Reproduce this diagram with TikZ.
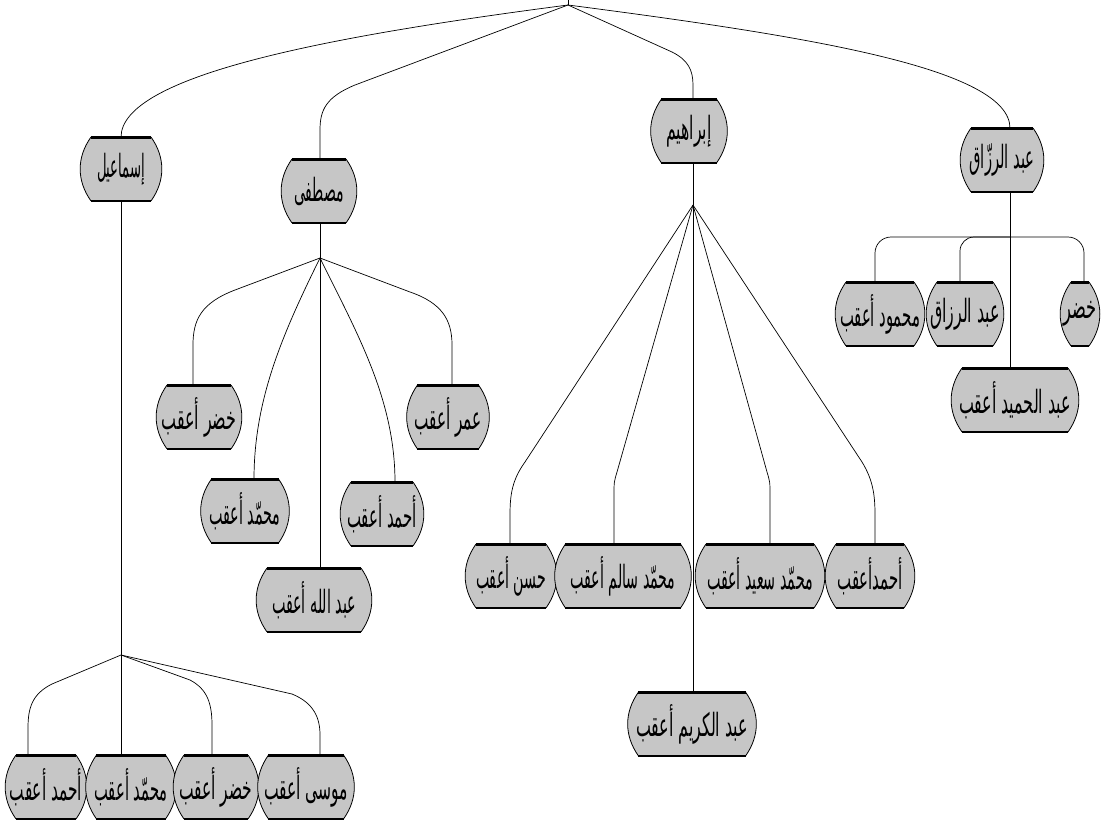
\documentclass[tikz,border=0pt]{standalone}
\usepackage{fontspec}
\usepackage{graphicx}
\usetikzlibrary{calc}
\newfontfamily\arabicfont[Script=Arabic]{DejaVu Sans}
\TeXXeTstate=1
\newcommand{\artext}[2]{\resizebox{#1}{2\height}{\arabicfont #2}}
\pgfdeclarelayer{bg}
\pgfsetlayers{bg,main}
\tikzset{
  fam/.style={rectangle, inner sep=0pt, minimum height=63pt, font=\fontsize{16}{18}\selectfont},
  famshape/.style={fill=gray!45, draw=black, line width=0.8pt},
  link/.style={draw=black, line width=0.7pt},
  edgebar/.style={line width=2.4pt, line cap=butt}
}
\begin{document}
\begin{tikzpicture}[x=1pt,y=-1pt]
\useasboundingbox (0,0) rectangle (1105,822);
% hubs
\coordinate (root) at (568,5);
\coordinate (top) at (568,0);
\coordinate (hubI) at (121,655);
\coordinate (hubM) at (320,258);
\coordinate (hubB) at (693,205);
\coordinate (hubA) at (1010,237);
% level 1
\node[fam, minimum width=78pt] (ism) at (121,169) {\artext{48pt}{\beginR إسماعيل\endR}};
\node[fam, minimum width=72pt] (mus) at (319,191) {\artext{50pt}{\beginR مصطفى\endR}};
\node[fam, minimum width=73pt] (ibr) at (689,131) {\artext{45pt}{\beginR إبراهيم\endR}};
\node[fam, minimum width=80pt] (abd) at (1002,160) {\artext{65pt}{\beginR عبد الرزّاق\endR}};
% children of abd
\node[fam, minimum width=86pt] (mah) at (880,314) {\artext{80pt}{\beginR محمود أعقب\endR}};
\node[fam, minimum width=74pt] (abd2) at (965,314) {\artext{70pt}{\beginR عبد الرزاق\endR}};
\node[fam, minimum width=36pt] (khd) at (1080,314) {\artext{33pt}{\beginR خضر\endR}};
\node[fam, minimum width=124pt] (hmd) at (1015,400) {\artext{112pt}{\beginR عبد الحميد أعقب\endR}};
% children of mus
\node[fam, minimum width=82pt] (khA) at (199,417) {\artext{75pt}{\beginR خضر أعقب\endR}};
\node[fam, minimum width=79pt] (omr) at (448,417) {\artext{67pt}{\beginR عمر أعقب\endR}};
\node[fam, minimum width=85pt] (muh) at (245,511) {\artext{71pt}{\beginR محمّد أعقب\endR}};
\node[fam, minimum width=80pt] (ahm) at (382,514) {\artext{70pt}{\beginR أحمد أعقب\endR}};
\node[fam, minimum width=112pt] (abl) at (314,600) {\artext{84pt}{\beginR عبد الله أعقب\endR}};
% children of ibr
\node[fam, minimum width=88pt] (hsn) at (511,576) {\artext{70pt}{\beginR حسن أعقب\endR}};
\node[fam, minimum width=133pt] (slm) at (623,576) {\artext{105pt}{\beginR محمّد سالم أعقب\endR}};
\node[fam, minimum width=126pt] (sed) at (760,576) {\artext{106pt}{\beginR محمّد سعيد أعقب\endR}};
\node[fam, minimum width=86pt] (ahmB) at (870,576) {\artext{65pt}{\beginR أحمدأعقب\endR}};
\node[fam, minimum width=125pt] (krm) at (692,724) {\artext{112pt}{\beginR عبد الكريم أعقب\endR}};
% children of ism
\node[fam, minimum width=78pt] (bA) at (46,787) {\artext{72pt}{\beginR أحمد أعقب\endR}};
\node[fam, minimum width=87pt] (bB) at (131,787) {\artext{73pt}{\beginR محمّد أعقب\endR}};
\node[fam, minimum width=82pt] (bC) at (216,787) {\artext{73pt}{\beginR خضر أعقب\endR}};
\node[fam, minimum width=93pt] (bD) at (306,787) {\artext{84pt}{\beginR موسى أعقب\endR}};
% node shapes
\begin{pgfonlayer}{bg}
\foreach \n in {ism,mus,ibr,abd,mah,abd2,khd,hmd,khA,omr,muh,ahm,abl,hsn,slm,sed,ahmB,krm,bA,bB,bC,bD}{
  \coordinate (NW) at ($(\n.north west)+(9,0)$);
  \coordinate (NE) at ($(\n.north east)+(-9,0)$);
  \coordinate (SE) at ($(\n.south east)+(-9,0)$);
  \coordinate (SW) at ($(\n.south west)+(9,0)$);
  \filldraw[famshape] (NW) -- (NE) to[bend left=35] (SE) -- (SW) to[bend left=35] (NW) -- cycle;
  \draw[edgebar] (NW) -- (NE);
  \draw[edgebar] (SW) -- (SE);
}
\end{pgfonlayer}
% root links
\draw[link] (top) -- (root);
\draw[link] (root) .. controls (330,36) and (121,75) .. (121,0 |- ism.north);
\draw[link] (root) -- (355,85) .. controls (326,97) and (320,110) .. (320,130) -- (320,0 |- mus.north);
\draw[link] (root) -- (672,52) .. controls (688,60) and (693,70) .. (693,85) -- (693,0 |- ibr.north);
\draw[link] (root) .. controls (806,36) and (1010,68) .. (1010,0 |- abd.north);
% abd branch
\draw[link] (1010,0 |- abd.south) -- (1010,0 |- hmd.north);
\draw[link, rounded corners=16pt] (hubA) -| (875,0 |- mah.north);
\draw[link, rounded corners=14pt] (hubA) -| (960,0 |- abd2.north);
\draw[link, rounded corners=16pt] (hubA) -| (1084,0 |- khd.north);
% mus branch
\draw[link] (320,0 |- mus.south) -- (hubM);
\draw[link] (hubM) -- (235,290) .. controls (201,303) and (193,320) .. (193,345) -- (193,0 |- khA.north);
\draw[link] (hubM) .. controls (282,335) and (254,400) .. (254,0 |- muh.north);
\draw[link] (hubM) -- (320,0 |- abl.north);
\draw[link] (hubM) .. controls (358,335) and (395,400) .. (395,0 |- ahm.north);
\draw[link] (hubM) -- (410,292) .. controls (442,303) and (452,320) .. (452,345) -- (452,0 |- omr.north);
% ibr branch
\draw[link] (693,0 |- ibr.south) -- (hubB);
\draw[link] (hubB) -- (525,462) .. controls (512,480) and (510,495) .. (510,515) -- (510,0 |- hsn.north);
\draw[link] (hubB) -- (617,472) .. controls (614,482) .. (614,495) -- (614,0 |- slm.north);
\draw[link] (hubB) -- (693,0 |- krm.north);
\draw[link] (hubB) -- (767,472) .. controls (770,482) .. (770,495) -- (770,0 |- sed.north);
\draw[link] (hubB) -- (862,462) .. controls (873,480) and (875,495) .. (875,515) -- (875,0 |- ahmB.north);
% ism branch
\draw[link] (ism.south) -- (hubI);
\draw[link] (hubI) -- (52,684) .. controls (32,694) and (28,708) .. (28,728) -- (28,0 |- bA.north);
\draw[link] (hubI) -- (121,0 |- bB.north);
\draw[link] (hubI) -- (190,680) .. controls (207,689) and (212,703) .. (212,725) -- (212,0 |- bC.north);
\draw[link] (hubI) -- (292,694) .. controls (314,703) and (320,718) .. (320,735) -- (320,0 |- bD.north);
\end{tikzpicture}
\end{document}
